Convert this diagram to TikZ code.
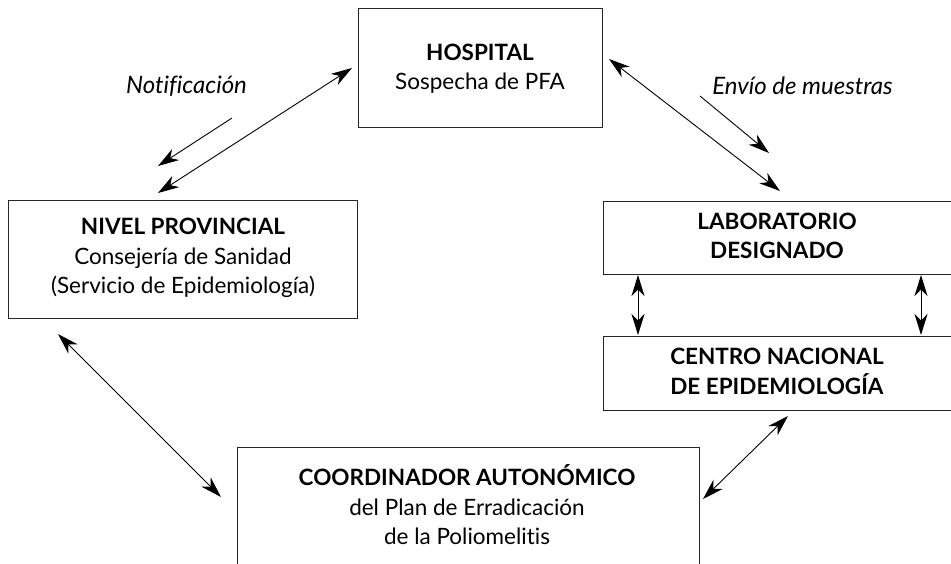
\documentclass[tikz,border=0pt]{standalone}
\usepackage{fontspec}
\setmainfont{Lato}[Ligatures=NoCommon]
\usetikzlibrary{arrows.meta}
\begin{document}
\begin{tikzpicture}[x=1pt,y=-1pt,
  boxframe/.style={draw=black!85,line width=1.3pt,inner sep=0pt,anchor=north west},
  txt/.style={align=center,font=\fontsize{22.5}{29.5}\selectfont,inner sep=0pt},
  lbl/.style={font=\fontsize{24}{28}\selectfont\itshape,inner sep=0pt},
  conn/.style={line width=0.9pt,{Stealth[length=21pt,width=13pt,inset=6.5pt]}-{Stealth[length=21pt,width=13pt,inset=6.5pt]}},
  oneway/.style={line width=0.9pt,-{Stealth[length=21pt,width=13pt,inset=6.5pt]}}]
\useasboundingbox (0,0) rectangle (951,563);
% boxes
\node[boxframe,minimum width=244pt,minimum height=119pt] (hospbox) at (358,8) {};
\node[boxframe,minimum width=349pt,minimum height=118pt] (nivbox) at (8,200) {};
\node[boxframe,minimum width=360pt,minimum height=73pt] (labbox) at (603,201) {};
\node[boxframe,minimum width=360pt,minimum height=74pt] (cenbox) at (603,336) {};
\node[boxframe,minimum width=462pt,minimum height=130pt] (coobox) at (237,447) {};
% texts
\node[txt] (hosp) at (480,68.5) {\textbf{HOSPITAL}\\Sospecha de PFA};
\node[txt] (niv) at (183,258) {\textbf{NIVEL PROVINCIAL}\\Consejería de Sanidad\\(Servicio de Epidemiología)};
\node[txt] (lab) at (777,236) {\textbf{LABORATORIO}\\\textbf{DESIGNADO}};
\node[txt] (cen) at (777,371.5) {\textbf{CENTRO NACIONAL}\\\textbf{DE EPIDEMIOLOGÍA}};
\node[txt] (coo) at (467,505) {\textbf{COORDINADOR AUTONÓMICO}\\del Plan de Erradicación\\de la Poliomelitis};
\node[lbl] (notif) at (186.5,86) {Notificación};
\node[lbl] (envio) at (802.5,86) {Envío de muestras};
% connector end points
\coordinate (n1) at (232,118); \coordinate (n2) at (158,166);
\coordinate (hn1) at (352,68); \coordinate (hn2) at (158,193);
\coordinate (hl1) at (609,59); \coordinate (hl2) at (780,191);
\coordinate (e1) at (700,96); \coordinate (e2) at (769,153);
\coordinate (v1a) at (638,275); \coordinate (v1b) at (638,335);
\coordinate (v2a) at (921,275); \coordinate (v2b) at (921,335);
\coordinate (nc1) at (58,334); \coordinate (nc2) at (221,497);
\coordinate (cc1) at (788,416); \coordinate (cc2) at (703,499);
% connectors
\draw[oneway] (n1) -- (n2);
\draw[conn] (hn1) -- (hn2);
\draw[conn] (hl1) -- (hl2);
\draw[oneway] (e1) -- (e2);
\draw[conn] (v1a) -- (v1b);
\draw[conn] (v2a) -- (v2b);
\draw[conn] (nc1) -- (nc2);
\draw[conn] (cc1) -- (cc2);
\end{tikzpicture}
\end{document}
